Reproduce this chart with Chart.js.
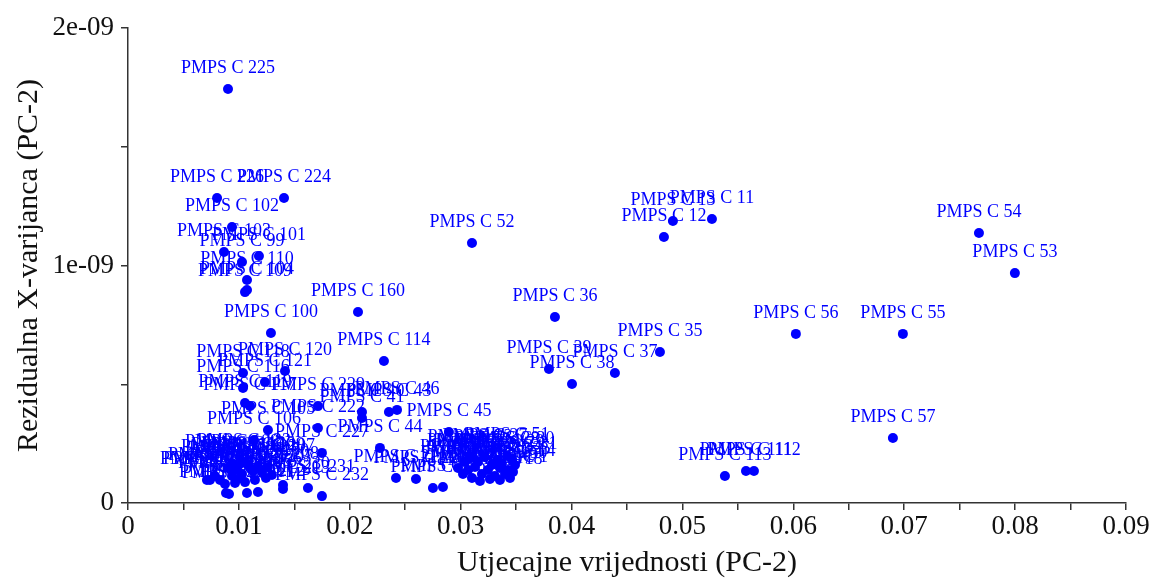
<!DOCTYPE html>
<html>
<head>
<meta charset="utf-8">
<script src="https://cdn.jsdelivr.net/npm/chart.js@4.4.0/dist/chart.umd.min.js"></script>
<style>
html,body{margin:0;padding:0;background:#ffffff;}
#wrap{width:1151px;height:581px;position:relative;}
</style>
</head>
<body>
<div id="wrap"><canvas id="c" width="1151" height="581"></canvas></div>
<script>
// ---- data ----
const pointLabels = [
  "PMPS C 225","PMPS C 226","PMPS C 224","PMPS C 102","PMPS C 103","PMPS C 101","PMPS C 99","PMPS C 110","PMPS C 104","PMPS C 109",
  "PMPS C 100","PMPS C 160","PMPS C 114","PMPS C 52","PMPS C 36","PMPS C 39","PMPS C 38","PMPS C 37","PMPS C 35","PMPS C 12",
  "PMPS C 13","PMPS C 11","PMPS C 54","PMPS C 53","PMPS C 56","PMPS C 55","PMPS C 57","PMPS C 113","PMPS C 111","PMPS C 112",
  "PMPS C 118","PMPS C 120","PMPS C 121","PMPS C 116","PMPS C 119","PMPS C 117","PMPS C 229","PMPS C 40","PMPS C 41","PMPS C 43",
  "PMPS C 46","PMPS C 45","PMPS C 222","PMPS C 105","PMPS C 106","PMPS C 227","PMPS C 44","PMPS C 107","PMPS C 230","PMPS C 231",
  "PMPS C 232","PMPS C 21","PMPS C 22","PMPS C 20","PMPS C 26",
  "PMPS C 108","PMPS C 115","PMPS C 122","PMPS C 123","PMPS C 124","PMPS C 125","PMPS C 126","PMPS C 127","PMPS C 128","PMPS C 129",
  "PMPS C 130","PMPS C 131","PMPS C 132","PMPS C 133","PMPS C 200","PMPS C 201","PMPS C 202","PMPS C 203","PMPS C 204","PMPS C 205",
  "PMPS C 206","PMPS C 207","PMPS C 208","PMPS C 209","PMPS C 210","PMPS C 211","PMPS C 212","PMPS C 213",
  "PMPS C 51","PMPS C 47","PMPS C 23","PMPS C 24","PMPS C 27","PMPS C 28","PMPS C 29","PMPS C 30","PMPS C 31","PMPS C 32",
  "PMPS C 33","PMPS C 34","PMPS C 25","PMPS C 42","PMPS C 48","PMPS C 49","PMPS C 50","PMPS C 14","PMPS C 15","PMPS C 16",
  "PMPS C 17","PMPS C 18","PMPS C 19","PMPS C 1","PMPS C 2","PMPS C 3"
];
const xValues = [
  0.00902,0.00803,0.01407,0.00938,0.00866,0.01181,0.01028,0.01073,0.01073,0.01055,
  0.01289,0.02074,0.02308,0.03102,0.03850,0.03796,0.04004,0.04391,0.04797,0.04833,
  0.04914,0.05266,0.07674,0.07998,0.06023,0.06988,0.06898,0.05383,0.05573,0.05645,
  0.01037,0.01416,0.01235,0.01037,0.01055,0.01100,0.01713,0.02110,0.02110,0.02353,
  0.02426,0.02894,0.01713,0.01262,0.01136,0.01749,0.02272,0.01262,0.01398,0.01623,
  0.01749,0.02417,0.02597,0.02750,0.02840,
  0.00938,0.00992,0.01046,0.01100,0.00974,0.01028,0.01082,0.01127,0.00902,0.01172,
  0.01208,0.01010,0.00938,0.00784,0.00712,0.00739,0.00830,0.00875,0.00965,0.01055,
  0.01145,0.01244,0.01298,0.00884,0.00911,0.01073,0.01172,0.01398,
  0.03418,0.03282,0.03084,0.03156,0.03219,0.03327,0.03372,0.03463,0.03490,0.03129,
  0.03246,0.03354,0.03427,0.03066,0.03192,0.03309,0.03400,0.03472,0.03021,0.03102,
  0.03264,0.03354,0.03174,0.03445,0.02976,0.03039
];
const yValues = [
  1.743e-9,1.284e-9,1.284e-9,1.162e-9,1.057e-9,1.040e-9,1.015e-9,0.939e-9,0.897e-9,0.888e-9,
  0.716e-9,0.804e-9,0.598e-9,1.095e-9,0.783e-9,0.564e-9,0.501e-9,0.547e-9,0.636e-9,1.120e-9,
  1.187e-9,1.196e-9,1.137e-9,0.968e-9,0.712e-9,0.712e-9,0.274e-9,0.114e-9,0.135e-9,0.135e-9,
  0.547e-9,0.556e-9,0.509e-9,0.484e-9,0.421e-9,0.408e-9,0.408e-9,0.383e-9,0.358e-9,0.383e-9,
  0.392e-9,0.299e-9,0.316e-9,0.307e-9,0.265e-9,0.211e-9,0.232e-9,0.152e-9,0.076e-9,0.063e-9,
  0.029e-9,0.105e-9,0.101e-9,0.063e-9,0.067e-9,
  0.168e-9,0.156e-9,0.173e-9,0.147e-9,0.139e-9,0.122e-9,0.160e-9,0.135e-9,0.147e-9,0.156e-9,
  0.131e-9,0.105e-9,0.114e-9,0.114e-9,0.097e-9,0.097e-9,0.097e-9,0.080e-9,0.084e-9,0.088e-9,
  0.097e-9,0.105e-9,0.118e-9,0.042e-9,0.038e-9,0.042e-9,0.046e-9,0.059e-9,
  0.198e-9,0.160e-9,0.189e-9,0.173e-9,0.194e-9,0.181e-9,0.168e-9,0.181e-9,0.160e-9,0.152e-9,
  0.139e-9,0.147e-9,0.139e-9,0.139e-9,0.122e-9,0.114e-9,0.122e-9,0.131e-9,0.122e-9,0.105e-9,
  0.101e-9,0.097e-9,0.093e-9,0.105e-9,0.147e-9,0.173e-9
];
const xTickValues = [0,0.005,0.01,0.015,0.02,0.025,0.03,0.035,0.04,0.045,0.05,0.055,0.06,0.065,0.07,0.075,0.08,0.085,0.09];
const xTickLabels = ["0","","0.01","","0.02","","0.03","","0.04","","0.05","","0.06","","0.07","","0.08","","0.09"];
const yTickValues = [0,0.5e-9,1e-9,1.5e-9,2e-9];
const yTickLabels = ["0","","1e-09","","2e-09"];
const xTitle = "Utjecajne vrijednosti (PC-2)";
const yTitle = "Rezidualna X-varijanca (PC-2)";

// ---- chart ----
const BLUE = "#0000FF";
const AXIS = "#333333";
const FONT = "'Liberation Serif', 'Times New Roman', serif";

const points = xValues.map((x, i) => ({x: x, y: yValues[i]}));

const labelPlugin = {
  id: "pointLabels",
  afterDatasetsDraw(chart) {
    const ctx = chart.ctx;
    const meta = chart.getDatasetMeta(0);
    ctx.save();
    ctx.font = "18px " + FONT;
    ctx.fillStyle = BLUE;
    ctx.textAlign = "center";
    ctx.textBaseline = "middle";
    meta.data.forEach((el, i) => {
      ctx.fillText(pointLabels[i], el.x, el.y - 21);
    });
    ctx.restore();
  }
};

new Chart(document.getElementById("c"), {
  type: "scatter",
  data: {
    datasets: [{
      data: points,
      backgroundColor: BLUE,
      borderColor: BLUE,
      pointRadius: 5,
      pointHoverRadius: 5,
      borderWidth: 0
    }]
  },
  options: {
    responsive: false,
    animation: false,
    events: [],
    layout: {padding: {top: 28, right: 25, left: 0, bottom: 0}},
    plugins: {legend: {display: false}, tooltip: {enabled: false}},
    scales: {
      x: {
        type: "linear",
        min: 0, max: 0.09,
        afterBuildTicks: (s) => { s.ticks = xTickValues.map(v => ({value: v})); },
        afterFit: (s) => { s.height = 78; },
        border: {display: true, color: AXIS, width: 1.5},
        grid: {display: true, drawOnChartArea: false, drawTicks: true, tickLength: 7, color: AXIS, lineWidth: 1.5},
        ticks: {
          autoSkip: false, maxRotation: 0, padding: 1,
          color: "#111111",
          font: {family: FONT, size: 27},
          callback: (v, i) => xTickLabels[i]
        },
        title: {display: true, text: xTitle, color: "#111111", font: {family: FONT, size: 30}, padding: {top: 0, bottom: 0}}
      },
      y: {
        type: "linear",
        min: 0, max: 2e-9,
        afterBuildTicks: (s) => { s.ticks = yTickValues.map(v => ({value: v})); },
        afterFit: (s) => { s.width = 128; },
        border: {display: true, color: AXIS, width: 1.5},
        grid: {display: true, drawOnChartArea: false, drawTicks: true, tickLength: 7, color: AXIS, lineWidth: 1.5},
        ticks: {
          autoSkip: false, padding: 7,
          color: "#111111",
          font: {family: FONT, size: 27},
          callback: (v, i) => yTickLabels[i]
        },
        title: {display: true, text: yTitle, color: "#111111", font: {family: FONT, size: 30}, padding: {top: 11, bottom: 0}}
      }
    }
  },
  plugins: [labelPlugin]
});
</script>
</body>
</html>
